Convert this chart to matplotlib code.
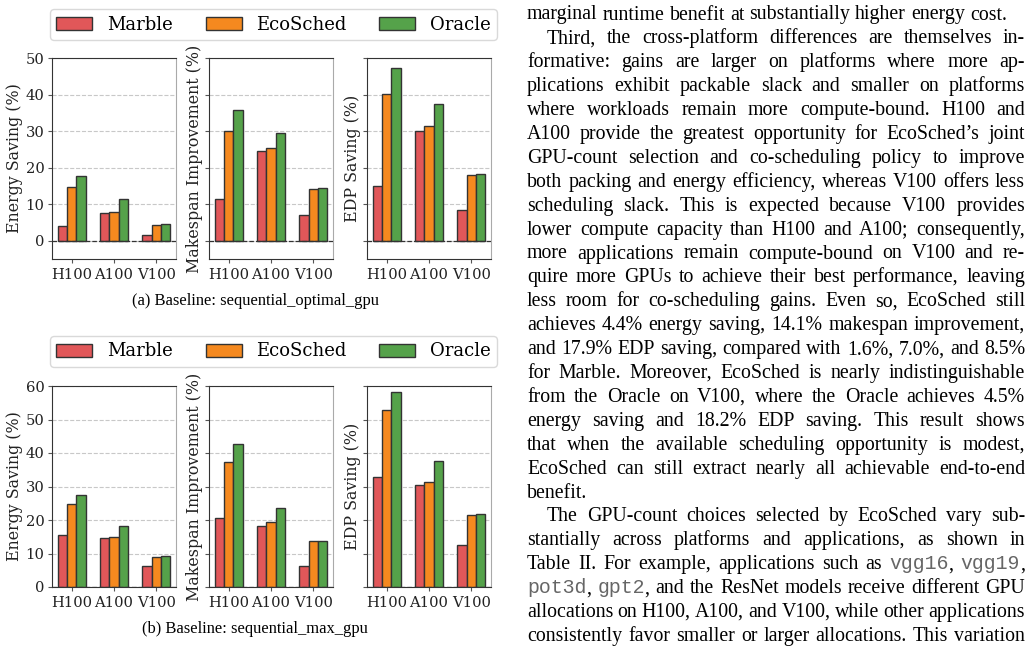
import re
import matplotlib
matplotlib.use('Agg')
import matplotlib.pyplot as plt
from matplotlib.transforms import IdentityTransform
import numpy as np

plt.rcParams['font.family'] = 'serif'
plt.rcParams['font.serif'] = ['DejaVu Serif']

platforms = ['H100', 'A100', 'V100']
methods = ['Marble', 'EcoSched', 'Oracle']
colors = ['#e15759', '#f5891f', '#55a24a']
ylabels = ['Energy Saving (%)', 'Makespan Improvement (%)', 'EDP Saving (%)']

# (a) baseline sequential_optimal_gpu -- rows: methods, cols: platforms
opt_energy = [[4.1, 7.5, 1.6], [14.6, 7.9, 4.4], [17.8, 11.4, 4.5]]
opt_makespan = [[11.4, 24.5, 7.0], [30.0, 25.5, 14.1], [35.9, 29.4, 14.3]]
opt_edp = [[15.1, 30.1, 8.5], [40.2, 31.4, 17.9], [47.3, 37.5, 18.2]]

# (b) baseline sequential_max_gpu
max_energy = [[15.4, 14.7, 6.4], [24.7, 15.0, 9.0], [27.6, 18.2, 9.2]]
max_makespan = [[20.5, 18.2, 6.4], [37.2, 19.3, 13.6], [42.7, 23.6, 13.8]]
max_edp = [[32.8, 30.4, 12.5], [52.9, 31.4, 21.4], [58.3, 37.6, 21.7]]

# body text of the page, one entry per printed line (`...` = monospace)
body_lines = [
    "marginal runtime benefit at substantially higher energy cost.",
    "Third, the cross-platform differences are themselves in-",
    "formative: gains are larger on platforms where more ap-",
    "plications exhibit packable slack and smaller on platforms",
    "where workloads remain more compute-bound. H100 and",
    "A100 provide the greatest opportunity for EcoSched\u2019s joint",
    "GPU-count selection and co-scheduling policy to improve",
    "both packing and energy efficiency, whereas V100 offers less",
    "scheduling slack. This is expected because V100 provides",
    "lower compute capacity than H100 and A100; consequently,",
    "more applications remain compute-bound on V100 and re-",
    "quire more GPUs to achieve their best performance, leaving",
    "less room for co-scheduling gains. Even so, EcoSched still",
    "achieves 4.4% energy saving, 14.1% makespan improvement,",
    "and 17.9% EDP saving, compared with 1.6%, 7.0%, and 8.5%",
    "for Marble. Moreover, EcoSched is nearly indistinguishable",
    "from the Oracle on V100, where the Oracle achieves 4.5%",
    "energy saving and 18.2% EDP saving. This result shows",
    "that when the available scheduling opportunity is modest,",
    "EcoSched can still extract nearly all achievable end-to-end",
    "benefit.",
    "The GPU-count choices selected by EcoSched vary sub-",
    "stantially across platforms and applications, as shown in",
    "Table II. For example, applications such as `vgg16`, `vgg19`,",
    "`pot3d`, `gpt2`, and the ResNet models receive different GPU",
    "allocations on H100, A100, and V100, while other applications",
    "consistently favor smaller or larger allocations. This variation",
]
para_first = [1, 21]
para_last = [0, 20]

W, H = 1035, 653
fig = plt.figure(figsize=(W / 100, H / 100), dpi=100)
renderer = fig.canvas.get_renderer()


def px_axes(x0, y_top, w, h):
    return fig.add_axes([x0 / W, (H - y_top - h) / H, w / W, h / H])


def draw_panel(y_top, data, ylim, yticks, caption, cap_y, leg_y):
    width = 0.22
    x = np.arange(len(platforms))
    axes = []
    for i, (vals, lab) in enumerate(zip(data, ylabels)):
        ax = px_axes([52, 209, 367][i], y_top, 124, 201)
        for j, m in enumerate(methods):
            ax.bar(x + (j - 1) * width, vals[j], width, color=colors[j],
                   edgecolor='#333333', linewidth=1.0, label=m, zorder=3)
        ax.axhline(0, color='#333333', ls='--', lw=0.9, zorder=4)
        ax.set_ylim(*ylim)
        ax.set_yticks(yticks)
        ax.set_xticks(x, platforms)
        ax.set_ylabel(lab, fontsize=11.4, color='#222222', labelpad=1.5)
        ax.tick_params(labelsize=10.6, labelcolor='#222222', color='#555555',
                       length=3, pad=2.5)
        ax.tick_params(axis='x', pad=3.5)
        if i > 0:
            ax.tick_params(labelleft=False)
        ax.grid(axis='y', ls='--', color='#c8c8c8', lw=0.8, zorder=0)
        for s in ['left', 'top', 'bottom']:
            ax.spines[s].set_color('#333333')
        ax.spines['right'].set_color('#aaaaaa')
        axes.append(ax)
    h, l = axes[0].get_legend_handles_labels()
    fig.legend(h, l, loc='center', ncol=3, mode='expand',
               bbox_to_anchor=(50 / W, 1 - (leg_y + 31) / H, 447 / W, 31 / H),
               borderaxespad=0, fontsize=13, handlelength=2.0,
               handletextpad=0.8, borderpad=0.35, edgecolor='#d0d0d0')
    fig.text(255 / W, 1 - cap_y / H, caption, ha='center', va='center',
             family='Liberation Serif', fontsize=11.9)


draw_panel(58, [opt_energy, opt_makespan, opt_edp], (-5, 50), range(0, 51, 10),
           '(a) Baseline: sequential_optimal_gpu', 301, 9)
draw_panel(386, [max_energy, max_makespan, max_edp], (0, 60), range(0, 61, 10),
           '(b) Baseline: sequential_max_gpu', 629, 336)

# justified body text column
fs = 14.35
x_left, x_right = 527, 1025
indent = 20
space = 0.25 * fs * 100 / 72
for k, line in enumerate(body_lines):
    y = H - (19.5 + k * 23.9)
    words = []
    for w in line.split(' '):
        parts = [p for p in re.split(r'(`[^`]*`)', w) if p]
        segs = []
        for p in parts:
            mono = p.startswith('`')
            t = fig.text(0, y, p.strip('`'), fontsize=fs,
                         family='Liberation Mono' if mono else 'Liberation Serif',
                         color='#666666' if mono else 'black',
                         transform=IdentityTransform(), va='baseline', ha='left')
            segs.append((t, t.get_window_extent(renderer).width))
        words.append(segs)
    x0 = x_left + (indent if k in para_first else 0)
    total = sum(wd for segs in words for _, wd in segs)
    if k in para_last or len(words) == 1:
        gap = space
    else:
        gap = (x_right - x0 - total) / (len(words) - 1)
    x = x0
    for segs in words:
        for t, wd in segs:
            t.set_x(x)
            x += wd
        x += gap

fig.savefig('out.png', dpi=100)
